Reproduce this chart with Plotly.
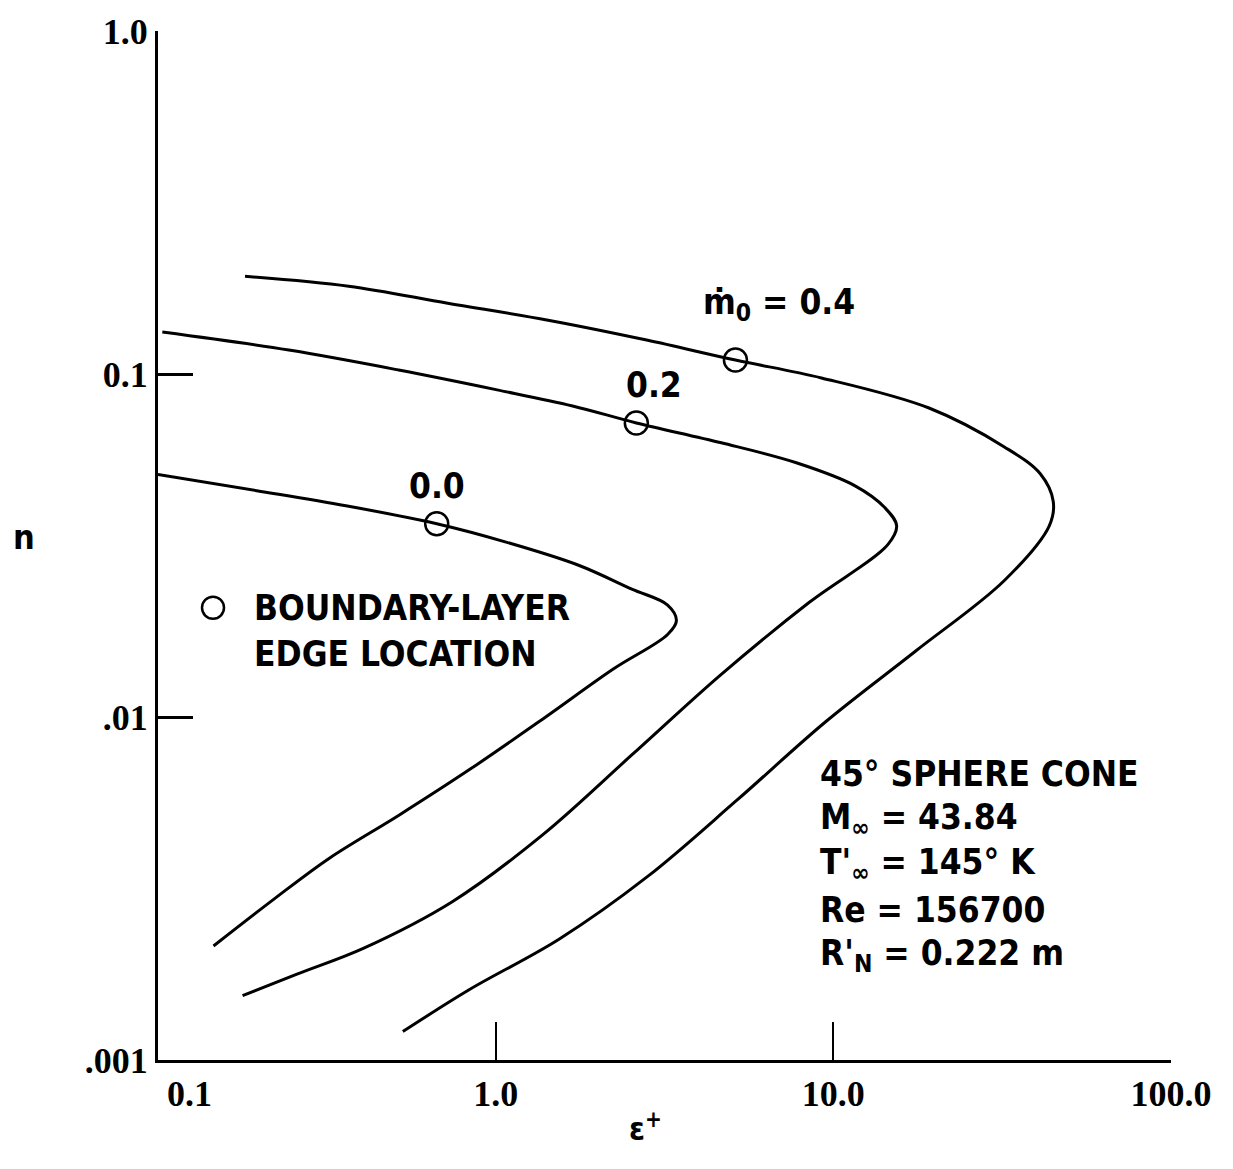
import numpy as np
import plotly.graph_objects as go

# Boundary-layer profiles, eps+ against n, for three wall blowing rates
mdot_labels = ["0.0", "0.2", "0.4"]

eps_m00 = [0.100, 0.196, 0.360, 0.669, 1.08, 1.76, 2.53, 3.23, 3.43, 3.23,
           2.23, 1.38, 0.843, 0.520, 0.321, 0.222, 0.146]
n_m00 = [0.0509, 0.0457, 0.0413, 0.0366, 0.0323, 0.0277, 0.0236, 0.0212, 0.0191,
         0.0174, 0.0138, 0.00987, 0.00706, 0.00519, 0.00387, 0.00296, 0.00215]

eps_m02 = [0.103, 0.244, 0.516, 1.01, 1.69, 2.61, 4.66, 7.77, 11.6, 14.2, 15.4,
           14.5, 8.49, 4.63, 2.53, 1.38, 0.746, 0.407, 0.258, 0.178]
n_m02 = [0.1325, 0.1174, 0.1027, 0.0899, 0.0807, 0.0720, 0.0630, 0.0551, 0.0472,
         0.0408, 0.0361, 0.0318, 0.0216, 0.01325, 0.00775, 0.00454, 0.00290,
         0.00212, 0.00178, 0.00154]

eps_m04 = [0.181, 0.367, 0.721, 1.43, 2.80, 5.13, 9.22, 19.2, 32.1, 41.0, 44.8,
           43.6, 32.1, 17.5, 9.47, 5.16, 2.82, 1.54, 0.832, 0.531]
n_m04 = [0.1927, 0.1803, 0.1608, 0.1435, 0.1256, 0.1098, 0.0974, 0.0796, 0.0613,
         0.0512, 0.0425, 0.0361, 0.0250, 0.01555, 0.00967, 0.00570, 0.00343,
         0.00225, 0.00160, 0.00121]

# boundary-layer edge location on each profile
edge_eps = [0.669, 2.61, 5.13]
edge_n = [0.0366, 0.0720, 0.1098]

x_tickvals = [0.1, 1.0, 10.0, 100.0]
x_ticktext = ["\u00a0" * 7 + "0.1", "1.0", "10.0", "100.0"]
y_tickvals = [0.001, 0.01, 0.1, 1.0]
y_ticktext = [".001", ".01", "0.1", "1.0"]

case_lines = [
    "45° SPHERE CONE",
    "M<sub>∞</sub> = 43.84",
    "T'<sub>∞</sub> = 145° K",
    "Re = 156700",
    "R'<sub>N</sub> = 0.222 m",
]

LETTER = "DejaVu Sans Condensed"
DIGIT = "Liberation Serif"

fig = go.Figure()

for xs, ys in [(eps_m00, n_m00), (eps_m02, n_m02), (eps_m04, n_m04)]:
    fig.add_trace(go.Scatter(
        x=xs, y=ys, mode="lines",
        line=dict(color="black", width=3, shape="spline", smoothing=1.0),
        showlegend=False, hoverinfo="skip",
    ))

fig.add_trace(go.Scatter(
    x=edge_eps, y=edge_n, mode="markers",
    marker=dict(symbol="circle-open", size=23, color="black", line=dict(width=2.5)),
    showlegend=False, hoverinfo="skip",
))

annotations = []
label_font = dict(family=LETTER, size=35, color="black", weight="bold")

# curve labels next to the edge markers
annotations.append(dict(x=np.log10(edge_eps[0]), y=np.log10(edge_n[0]), xref="x", yref="y",
                        text=mdot_labels[0], showarrow=False, yshift=38, font=label_font))
annotations.append(dict(x=np.log10(edge_eps[1]), y=np.log10(edge_n[1]), xref="x", yref="y",
                        text=mdot_labels[1], showarrow=False, xshift=18, yshift=38, font=label_font))
annotations.append(dict(x=np.log10(edge_eps[2]), y=np.log10(edge_n[2]), xref="x", yref="y",
                        text="ṁ<sub>0</sub> = " + mdot_labels[2], showarrow=False,
                        xanchor="left", xshift=-34, yshift=56, font=label_font))

# key for the open circles
annotations.append(dict(x=0.0928, y=0.4172, xref="paper", yref="paper",
                        text="BOUNDARY-LAYER<br>EDGE LOCATION", showarrow=False,
                        xanchor="left", yanchor="middle", align="left", font=label_font))

# flow conditions block
for i, line in enumerate(case_lines):
    annotations.append(dict(x=0.6515, y=0.2778 - i * 0.0441, xref="paper", yref="paper",
                            text=line, showarrow=False, xanchor="left", yanchor="middle",
                            align="left", font=label_font))

# axis titles
annotations.append(dict(x=-0.145, y=0.508, xref="paper", yref="paper", text="n",
                        showarrow=False,
                        font=dict(family=LETTER, size=34, color="black", weight="bold")))
annotations.append(dict(x=0.481, y=-0.087, xref="paper", yref="paper", text="ε<sup>+</sup>",
                        showarrow=False,
                        font=dict(family=LETTER, size=32, color="black", weight="bold")))

shapes = [dict(type="circle", xref="paper", yref="paper",
               xsizemode="pixel", ysizemode="pixel",
               xanchor=0.0543, yanchor=0.4395,
               x0=-11, x1=11, y0=-11, y1=11,
               line=dict(color="black", width=2.5))]

tick_font = dict(family=DIGIT, size=36, color="black", weight="bold")

fig.update_layout(
    width=1233, height=1169,
    margin=dict(l=158, r=62, t=27, b=109),
    paper_bgcolor="white", plot_bgcolor="white",
    annotations=annotations, shapes=shapes,
    xaxis=dict(type="log", range=[-1, 2], showgrid=False, zeroline=False,
               showline=True, linecolor="black", linewidth=3,
               ticks="inside", ticklen=38, tickwidth=2, tickcolor="black",
               tickvals=x_tickvals, ticktext=x_ticktext, tickfont=tick_font),
    yaxis=dict(type="log", range=[-3, 0], showgrid=False, zeroline=False,
               showline=True, linecolor="black", linewidth=3,
               ticks="inside", ticklen=35, tickwidth=3, tickcolor="black",
               tickvals=y_tickvals, ticktext=y_ticktext, tickfont=tick_font),
)

fig.write_html("out.html")
